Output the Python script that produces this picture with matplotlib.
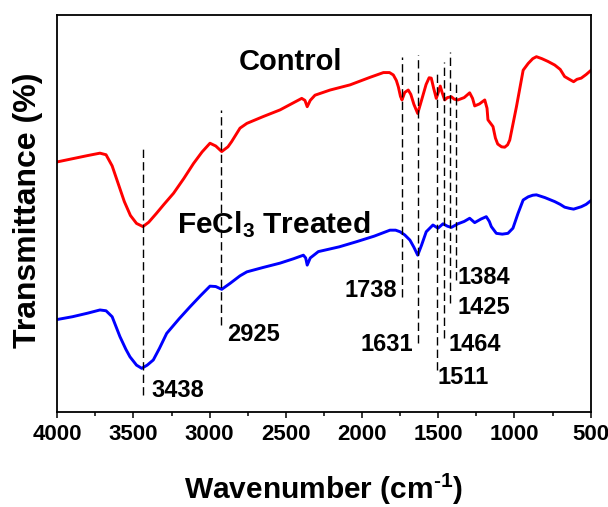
import matplotlib
matplotlib.use("Agg")
import matplotlib.pyplot as plt
from matplotlib.ticker import MultipleLocator, NullLocator

plt.rcParams['font.family'] = ['Liberation Sans', 'DejaVu Sans']
plt.rcParams['font.weight'] = 'bold'
plt.rcParams['mathtext.fontset'] = 'custom'
plt.rcParams['mathtext.rm'] = 'Liberation Sans:bold'
plt.rcParams['mathtext.bf'] = 'Liberation Sans:bold'
plt.rcParams['mathtext.it'] = 'Liberation Sans:bold'

# control spectrum (wavenumber, transmittance in arbitrary units)
control_wn = [4000, 3900, 3800, 3720, 3680, 3640, 3600, 3560, 3520, 3480, 3438, 3400,
              3350, 3300, 3237, 3170, 3106, 3050, 2998, 2960, 2921, 2880, 2856, 2801,
              2756, 2650, 2538, 2450, 2396, 2375, 2360, 2340, 2309, 2210, 2079, 1948,
              1860, 1820, 1795, 1775, 1762, 1748, 1738, 1720, 1697, 1680, 1660, 1635,
              1610, 1580, 1560, 1546, 1530, 1513, 1500, 1487, 1475, 1458, 1440, 1414,
              1395, 1371, 1330, 1294, 1275, 1261, 1230, 1195, 1180, 1174, 1141, 1125,
              1110, 1085, 1064, 1045, 1031, 1010, 987, 965, 943, 910, 880, 856, 820,
              780, 736, 700, 671, 640, 612, 590, 562, 530, 500]
control_t = [63.0, 63.8, 64.6, 65.2, 64.8, 62.0, 57.5, 53.0, 49.5, 47.5, 46.7, 47.8,
             50.0, 52.3, 55.1, 58.8, 62.6, 65.5, 67.7, 67.0, 65.6, 66.8, 68.1, 71.5,
             72.7, 74.4, 76.1, 77.9, 79.0, 78.5, 76.9, 78.5, 79.8, 81.1, 82.4, 84.3,
             85.5, 85.5, 84.9, 83.5, 81.9, 79.5, 78.6, 80.5, 81.1, 80.0, 77.5, 75.2,
             78.5, 82.5, 84.2, 84.1, 81.5, 79.0, 80.5, 82.1, 80.5, 78.6, 79.2, 79.4,
             78.8, 78.6, 79.2, 80.4, 79.0, 77.1, 77.6, 78.6, 76.5, 73.6, 71.9, 69.0,
             67.5, 66.8, 66.7, 67.3, 68.5, 72.5, 76.9, 81.5, 86.1, 87.8, 89.0, 89.5, 89.0,
             88.3, 87.4, 86.3, 84.5, 83.8, 83.2, 83.8, 84.1, 85.0, 86.0]

# FeCl3 treated spectrum
treated_wn = [4000, 3900, 3800, 3720, 3680, 3640, 3589, 3550, 3523, 3480, 3446, 3410,
              3370, 3330, 3282, 3200, 3129, 3060, 2998, 2960, 2921, 2866, 2801, 2756,
              2650, 2538, 2450, 2385, 2370, 2360, 2340, 2287, 2150, 2036, 1920, 1817,
              1780, 1751, 1720, 1686, 1660, 1635, 1610, 1579, 1535, 1502, 1469, 1440,
              1414, 1371, 1330, 1294, 1261, 1220, 1185, 1165, 1152, 1119, 1080, 1043,
              1010, 977, 943, 910, 880, 856, 800, 736, 700, 671, 640, 612, 562, 530, 500]
treated_t = [23.3, 24.0, 24.9, 25.7, 25.5, 24.0, 19.0, 15.8, 13.9, 11.8, 11.0, 11.8,
             13.1, 16.0, 19.8, 23.5, 26.5, 29.3, 31.7, 31.6, 30.9, 32.4, 34.3, 35.3,
             36.4, 37.5, 38.6, 39.5, 38.8, 37.0, 38.8, 40.4, 41.6, 42.9, 44.3, 45.8,
             45.8, 45.4, 44.6, 43.3, 41.5, 39.5, 42.0, 45.4, 47.1, 46.3, 47.4, 46.8,
             46.5, 47.4, 48.0, 48.8, 47.7, 48.6, 49.2, 48.0, 46.7, 45.0, 44.8, 45.0,
             46.3, 50.0, 53.4, 54.2, 54.6, 54.7, 54.0, 53.0, 52.3, 51.6, 51.3, 51.1,
             51.7, 52.3, 53.2]

# marked peaks: dashed line from top to bottom
peaks = [3438, 2925, 1738, 1631, 1511, 1464, 1425, 1384]
peak_top = [66.8, 76.1, 89.5, 89.9, 85.7, 88.2, 90.8, 83.2]
peak_bottom = [4.3, 21.9, 29.0, 17.3, 10.6, 18.6, 27.4, 33.2]

# peak labels: text, x, y, alignment
label_text = ["3438", "2925", "1738", "1631", "1511", "1464", "1425", "1384"]
label_x = [3379, 2886, 1773, 1664, 1507, 1436, 1375, 1375]
label_y = [5.5, 19.4, 30.6, 17.1, 8.7, 17.1, 26.2, 34.0]
label_ha = ["left", "left", "right", "right", "left", "left", "left", "left"]

fig = plt.figure(figsize=(6.08, 5.07), dpi=100)
ax = fig.add_axes([0.0942, 0.1874, 0.8773, 0.7830])

ax.plot(control_wn, control_t, color="#ff0000", lw=2.1)
ax.plot(treated_wn, treated_t, color="#0000ff", lw=2.1)

ax.vlines(peaks, peak_bottom, peak_top, colors="black", lw=1.0,
          linestyles=(0, (6, 3)))

for t, x, y, ha in zip(label_text, label_x, label_y, label_ha):
    ax.text(x, y, t, ha=ha, va="center", fontsize=17, fontweight="bold")

ax.text(2468, 88.2, "Control", ha="center", va="center", fontsize=21, fontweight="bold")
ax.text(3216, 45.0, r"FeCl$_3$ Treated", ha="left", va="baseline", fontsize=21.5,
        fontweight="bold")

ax.set_xlim(4000, 500)
ax.set_ylim(0, 100)
ax.xaxis.set_major_locator(MultipleLocator(500))
ax.xaxis.set_minor_locator(MultipleLocator(250))
ax.yaxis.set_major_locator(NullLocator())
ax.tick_params(axis="x", which="major", direction="out", length=4, width=1.1,
               pad=4.5, labelsize=16)
ax.tick_params(axis="x", which="minor", direction="out", length=3, width=1.1)
for s in ax.spines.values():
    s.set_linewidth(1.3)

ax.set_xlabel(r"Wavenumber (cm$^{\text{-1}}$)", fontsize=21.5, fontweight="bold")
ax.xaxis.label.set_va("baseline")
ax.xaxis.set_label_coords(0.5, -0.219)
ax.set_ylabel("Transmittance (%)", fontsize=23, fontweight="bold")
ax.yaxis.set_label_coords(-0.026, 0.509)

fig.savefig("out.png", dpi=100)
